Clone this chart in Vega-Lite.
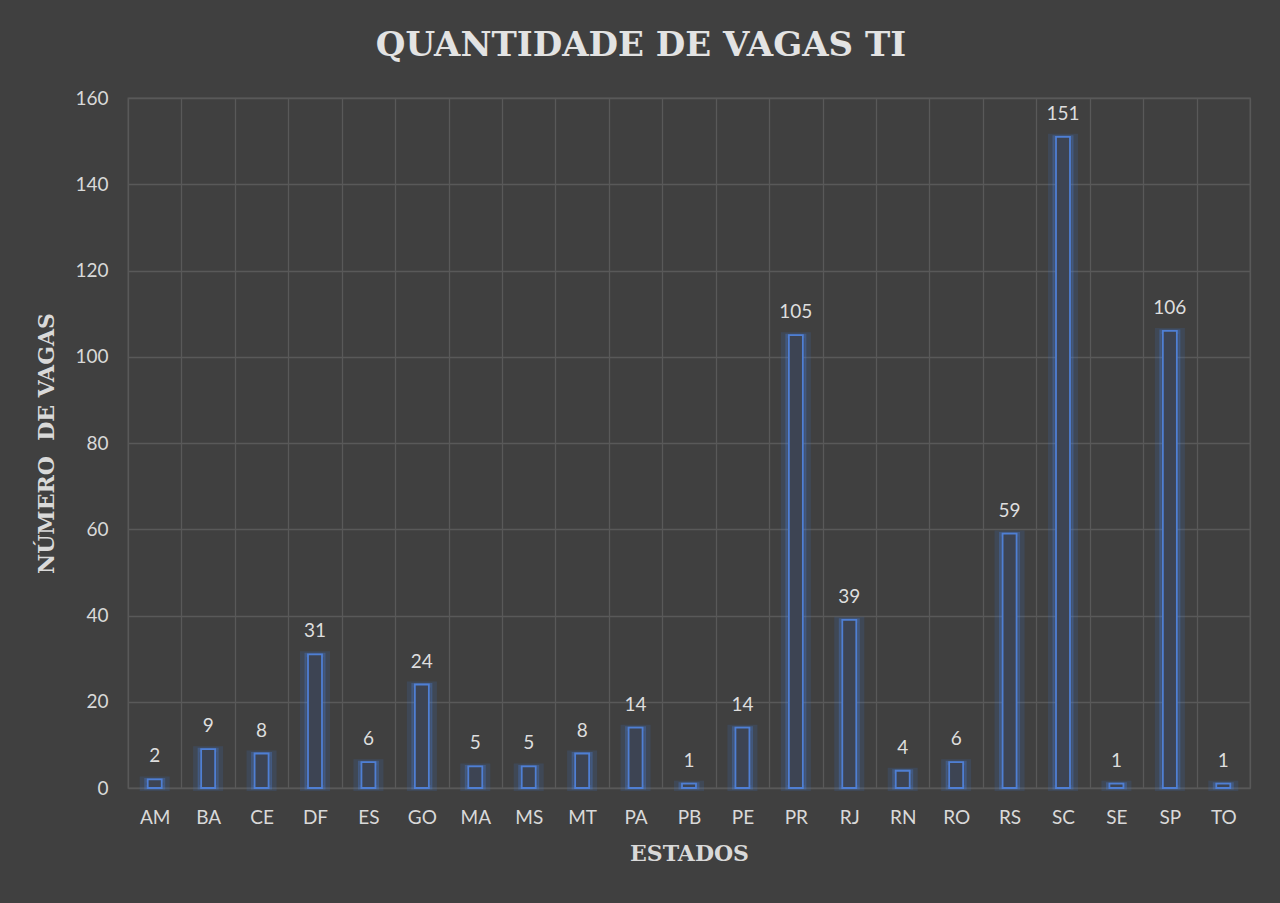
{
  "$schema": "https://vega.github.io/schema/vega-lite/v6.json",
  "autosize": {"type": "none"},
  "padding": {"left": 128, "top": 98, "right": 30, "bottom": 115},
  "width": 1122,
  "height": 690,
  "background": "#404040",
  "title": {
    "text": "QUANTIDADE DE VAGAS TI",
    "font": "DejaVu Serif",
    "fontWeight": "bold",
    "fontSize": 34,
    "color": "#e3e3e3",
    "anchor": "middle",
    "offset": 26,
    "dx": -48
  },
  "config": {
    "view": {"stroke": "#595959", "strokeWidth": 1.3},
    "axis": {
      "labelFont": "Lato",
      "labelColor": "#d9d9d9",
      "labelFontSize": 19,
      "titleFont": "DejaVu Serif",
      "titleFontWeight": "bold",
      "titleColor": "#d9d9d9",
      "titleFontSize": 22,
      "gridColor": "#595959",
      "gridWidth": 1.3,
      "gridOpacity": 1,
      "domain": false,
      "ticks": false
    }
  },
  "data": {
    "values": [
      {"estado": "AM", "vagas": 2},
      {"estado": "BA", "vagas": 9},
      {"estado": "CE", "vagas": 8},
      {"estado": "DF", "vagas": 31},
      {"estado": "ES", "vagas": 6},
      {"estado": "GO", "vagas": 24},
      {"estado": "MA", "vagas": 5},
      {"estado": "MS", "vagas": 5},
      {"estado": "MT", "vagas": 8},
      {"estado": "PA", "vagas": 14},
      {"estado": "PB", "vagas": 1},
      {"estado": "PE", "vagas": 14},
      {"estado": "PR", "vagas": 105},
      {"estado": "RJ", "vagas": 39},
      {"estado": "RN", "vagas": 4},
      {"estado": "RO", "vagas": 6},
      {"estado": "RS", "vagas": 59},
      {"estado": "SC", "vagas": 151},
      {"estado": "SE", "vagas": 1},
      {"estado": "SP", "vagas": 106},
      {"estado": "TO", "vagas": 1}
    ]
  },
  "encoding": {
    "x": {
      "field": "estado",
      "type": "nominal",
      "sort": null,
      "scale": {"paddingInner": 0, "paddingOuter": 0},
      "axis": {
        "title": "ESTADOS",
        "labelAngle": 0,
        "labelPadding": 20,
        "titlePadding": 16,
        "grid": true,
        "tickBand": "extent"
      }
    },
    "y": {
      "field": "vagas",
      "type": "quantitative",
      "scale": {"domain": [0, 160]},
      "axis": {
        "title": "NÚMERO\u00a0\u00a0DE VAGAS",
        "values": [0, 20, 40, 60, 80, 100, 120, 140, 160],
        "labelPadding": 20,
        "titlePadding": 16,
        "grid": true
      }
    }
  },
  "layer": [
    {
      "mark": {"type": "bar", "width": 24, "fill": null, "fillOpacity": 0, "stroke": "#3f78d8", "strokeWidth": 6, "strokeOpacity": 0.15}
    },
    {
      "mark": {"type": "bar", "width": 18, "fill": null, "fillOpacity": 0, "stroke": "#4a80e0", "strokeWidth": 3, "strokeOpacity": 0.3}
    },
    {
      "mark": {"type": "bar", "width": 14, "fill": "#3d4453", "stroke": "#4f7fd4", "strokeWidth": 1.8}
    },
    {
      "mark": {"type": "text", "baseline": "bottom", "dy": -13, "font": "Lato", "fontSize": 19, "color": "#dedede"},
      "encoding": {"text": {"field": "vagas", "type": "quantitative"}}
    }
  ]
}
